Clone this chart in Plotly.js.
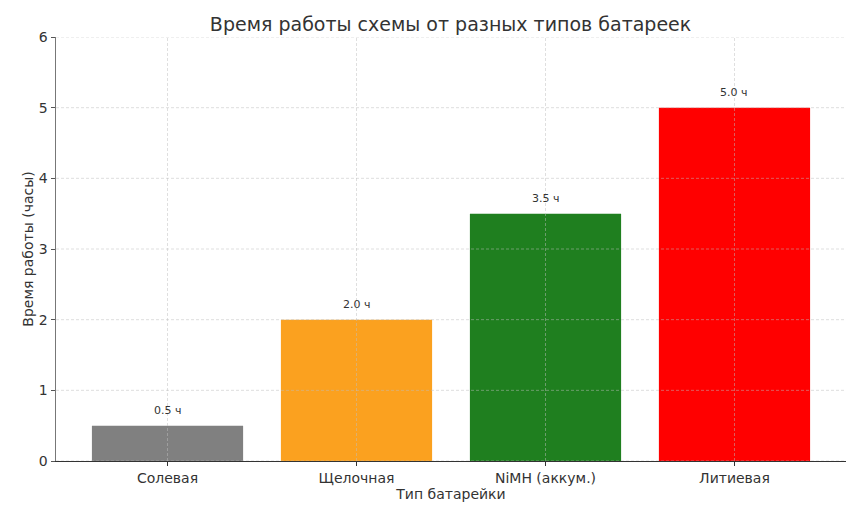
<html>
<head>
<meta charset="utf-8">
<script src="https://cdn.plot.ly/plotly-3.0.1.min.js"></script>
<style>
  body { margin: 0; background: #fff; }
  #chart { width: 855px; height: 506px; }
</style>
</head>
<body>
<div id="chart"></div>
<script>
// battery types and how long the circuit runs on each one
var batteries = ['Солевая', 'Щелочная', 'NiMH (аккум.)', 'Литиевая'];
var hours = [0.5, 2.0, 3.5, 5.0];
var barColors = ['#808080', '#FBA11F', '#1F7F1F', '#FF0000'];
var yTicks = [0, 1, 2, 3, 4, 5, 6];

var font = 'DejaVu Sans, sans-serif';

var trace = {
  type: 'bar',
  x: batteries,
  y: hours,
  width: 0.8,
  marker: { color: barColors, line: { width: 0 } },
  hoverinfo: 'x+y'
};

// labels over the bars
var labels = batteries.map(function (b, i) {
  return {
    x: b, y: hours[i], xref: 'x', yref: 'y',
    text: hours[i].toFixed(1) + ' ч',
    showarrow: false, yanchor: 'bottom', yshift: 7,
    font: { family: font, size: 11, color: '#333' }
  };
});

// dashed grid drawn above the bars, like the matplotlib original
var gridLine = { color: 'rgba(190,190,190,0.7)', width: 0.7, dash: '3px,2px' };
var grid = [];
yTicks.forEach(function (t) {
  grid.push({
    type: 'line', layer: 'above', xref: 'paper', yref: 'y',
    x0: 0, x1: 1, y0: t, y1: t, line: gridLine
  });
});
batteries.forEach(function (b) {
  grid.push({
    type: 'line', layer: 'above', xref: 'x', yref: 'paper',
    x0: b, x1: b, y0: 0, y1: 1, line: gridLine
  });
});

var layout = {
  width: 855,
  height: 506,
  margin: { l: 56, r: 9, t: 37, b: 45 },
  paper_bgcolor: '#fff',
  plot_bgcolor: '#fff',
  showlegend: false,
  font: { family: font, color: '#333' },
  title: {
    text: 'Время работы схемы от разных типов батареек',
    font: { family: font, size: 19, color: '#333' },
    x: 0.527, xanchor: 'center', y: 0.952, yanchor: 'middle'
  },
  xaxis: {
    range: [-0.59, 3.59],
    showgrid: false,
    zeroline: false,
    showline: true, linecolor: '#333', linewidth: 1,
    ticks: 'outside', ticklen: 4, tickcolor: '#333',
    tickfont: { family: font, size: 14, color: '#333' },
    title: { text: 'Тип батарейки', font: { family: font, size: 14, color: '#333' }, standoff: 0 },
    fixedrange: true
  },
  yaxis: {
    range: [0, 6],
    tickvals: yTicks,
    showgrid: false,
    zeroline: false,
    showline: true, linecolor: '#777', linewidth: 1.5,
    ticks: 'outside', ticklen: 4, tickcolor: '#555',
    tickfont: { family: font, size: 14, color: '#333' },
    title: { text: 'Время работы (часы)', font: { family: font, size: 14, color: '#333' }, standoff: 2 },
    fixedrange: true
  },
  annotations: labels,
  shapes: grid
};

Plotly.newPlot('chart', [trace], layout, { displayModeBar: false, staticPlot: true });
</script>
</body>
</html>
